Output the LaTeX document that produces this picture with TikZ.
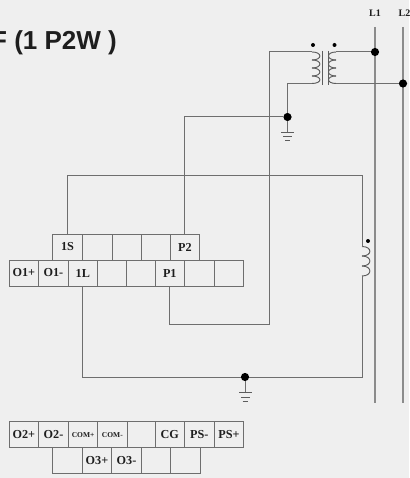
\documentclass[tikz,border=0pt]{standalone}
\usepackage{fontspec}
\setmainfont{Liberation Serif}
\newfontfamily\titlefont{Liberation Sans}
\definecolor{bgc}{HTML}{EFEFEF}
\definecolor{wirec}{HTML}{6E6E6E}
\definecolor{inkc}{HTML}{1E1E1E}
\tikzset{
  x=1pt,y=-1pt,
  wire/.style={draw=wirec,line width=1pt},
  thin wire/.style={draw=wirec!85!black,line width=0.95pt},
  busline/.style={draw=wirec!80!white,line width=1.4pt},
  dotj/.style={circle,fill=black,inner sep=0pt,minimum size=8.2pt},
  smalldot/.style={circle,fill=black,inner sep=0pt,minimum size=4pt},
  cell/.style={draw=wirec,line width=1pt,rectangle,inner sep=0pt,minimum height=26pt,text=inkc,font=\fontsize{12.2}{13}\selectfont\bfseries},
  smallcell/.style={cell,font=\fontsize{7.5}{8}\selectfont\bfseries},
  lab/.style={inner sep=0pt,text=inkc,font=\fontsize{10}{11}\selectfont\bfseries},
}
\newcommand{\tcell}[6][cell]{% style, name, x0, x1, ycentre, text
  \node[#1,minimum width=#4pt-#3pt] (#2) at ({(#3+#4)/2},#5) {#6};}
\newcommand{\coilbump}[3]{% cusp x, control x, list of y pairs
  \foreach \ya/\yb in {#3} {\draw[thin wire] (#1,\ya) .. controls (#2,\ya) and (#2,\yb) .. (#1,\yb);}}
\begin{document}
\begin{tikzpicture}
\fill[bgc] (0,0) rectangle (409,478);
\clip (0,0) rectangle (409,478);
\useasboundingbox (0,0) rectangle (409,478);

% title and bus labels
\node[anchor=base west,inner sep=0pt,text=inkc,font=\titlefont\fontsize{26}{28}\selectfont\bfseries] (title) at (-9,50) {F (1 P2W )};
\node[lab,anchor=base] (l1) at (375,17) {L1};
\node[lab,anchor=base] (l2) at (404.5,17) {L2};

% bus lines
\coordinate (l1t) at (375,27); \coordinate (l1b) at (375,403);
\coordinate (l2t) at (403,27); \coordinate (l2b) at (403,403);
\draw[busline] (l1t) -- (l1b);
\draw[busline] (l2t) -- (l2b);

% terminal rows
\tcell{s1}{52.7}{82.3}{247}{1S}
\tcell{s2}{82.3}{112}{247}{}
\tcell{s3}{112}{141.2}{247}{}
\tcell{s4}{141.2}{170.7}{247}{}
\tcell{s5}{170.7}{199.2}{247}{P2}
\tcell{a1}{9}{38.7}{273}{O1+}
\tcell{a2}{38.7}{68}{273}{O1-}
\tcell{a3}{68}{97.7}{273}{1L}
\tcell{a4}{97.7}{126}{273}{}
\tcell{a5}{126}{155.3}{273}{}
\tcell{a6}{155.3}{184.3}{273}{P1}
\tcell{a7}{184.3}{214.3}{273}{}
\tcell{a8}{214.3}{243.7}{273}{}
\tcell{b1}{9}{38.7}{434.7}{O2+}
\tcell{b2}{38.7}{68.4}{434.7}{O2-}
\tcell[smallcell]{b3}{68.4}{97.7}{434.7}{COM+}
\tcell[smallcell]{b4}{97.7}{127}{434.7}{COM-}
\tcell{b5}{127}{155.3}{434.7}{}
\tcell{b6}{155.3}{184.3}{434.7}{CG}
\tcell{b7}{184.3}{214.3}{434.7}{PS-}
\tcell{b8}{214.3}{243.7}{434.7}{PS+}
\tcell{c1}{52.7}{82.3}{460.7}{}
\tcell{c2}{82.3}{111.7}{460.7}{O3+}
\tcell{c3}{111.7}{141.3}{460.7}{O3-}
\tcell{c4}{141.3}{170.7}{460.7}{}
\tcell{c5}{170.7}{200}{460.7}{}

% junctions
\node[dotj] (jl1) at (375,52) {};
\node[dotj] (jl2) at (403,83.5) {};
\node[dotj] (jg1) at (287.5,117) {};
\node[dotj] (jg2) at (245,377) {};
\node[smalldot] (d1) at (313,45) {};
\node[smalldot] (d2) at (334.5,45) {};
\node[smalldot] (d3) at (368,241) {};

% transformer
\coordinate (pt) at (312,52);   \coordinate (pb) at (312,83.5);
\coordinate (st) at (336,52);   \coordinate (sb) at (336,83.5);
\coilbump{312}{322.5}{52/60,60/68,68/76,76/83.5}
\coilbump{336}{326}{52/60,60/68,68/76,76/83.5}
\coordinate (c1t) at (322,51); \coordinate (c1b) at (322,85);
\coordinate (c2t) at (328,51); \coordinate (c2b) at (328,85);
\draw[thin wire] (c1t) -- (c1b);
\draw[thin wire] (c2t) -- (c2b);

% wires around the transformer
\coordinate (wa) at (269,52);
\coordinate (wb) at (269,324);
\coordinate (wc) at (287.5,83.5);
\draw[wire] (pt) -- (wa) -- (wb) -| (a6.south);
\draw[wire] (st) -- (jl1);
\draw[wire] (sb) -- (jl2);
\draw[wire] (pb) -- (wc) -- (jg1);
\draw[wire] (jg1) -| (s5.north);

% inductor
\coordinate (it) at (362,246.5);
\coordinate (ib) at (362,276);
\coilbump{362}{372.5}{246.5/256,256/266,266/276}
\coordinate (wt) at (362,176);
\coordinate (wl) at (362,377);
\draw[wire] (s1.north) |- (wt) -- (it);
\draw[wire] (ib) -- (wl) -- (jg2);
\draw[wire] (a3.south) |- (jg2);

% grounds
\coordinate (g1) at (287.5,132);
\draw[wire] (jg1) -- (g1);
\draw[thin wire] (281,132) -- (294,132);
\draw[thin wire] (283,136) -- (292,136);
\draw[thin wire] (285,140.5) -- (290,140.5);
\coordinate (g2) at (245,392.5);
\draw[wire] (jg2) -- (g2);
\draw[thin wire] (239,392.5) -- (252,392.5);
\draw[thin wire] (241,397) -- (250,397);
\draw[thin wire] (242.5,401.5) -- (248,401.5);
\end{tikzpicture}
\end{document}
